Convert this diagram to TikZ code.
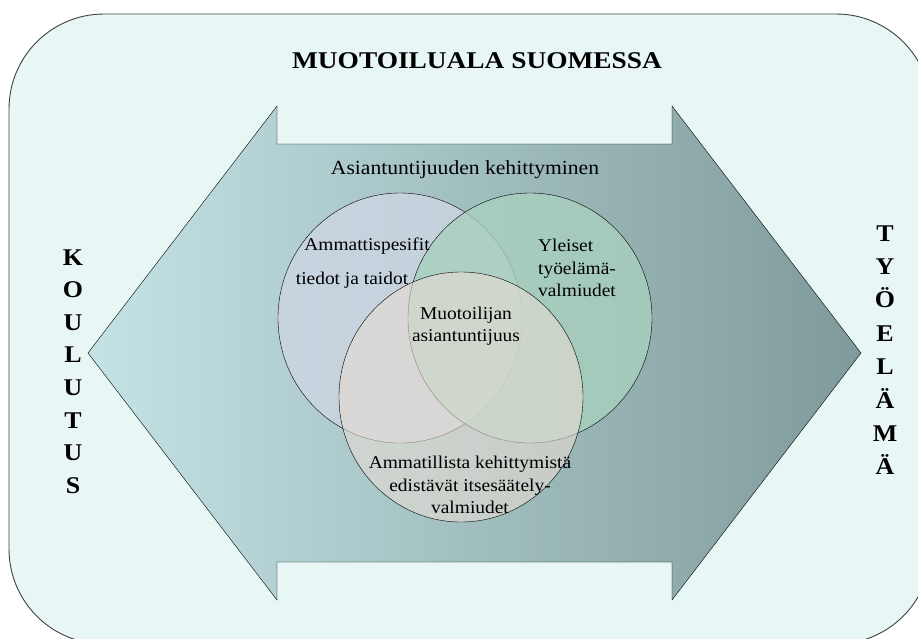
\documentclass[tikz,border=0pt]{standalone}
\usepackage{fontspec}
\setmainfont[FakeStretch=1.08]{Liberation Serif}
\newfontfamily\titlefam[FakeStretch=1.14]{Liberation Serif}
\usepackage{tikz}
\usetikzlibrary{positioning}
\definecolor{pagebg}{HTML}{E9F6F6}
\definecolor{arrowleft}{HTML}{C4E3E5}
\definecolor{arrowright}{HTML}{7F9A9A}
\definecolor{circleA}{HTML}{CDD5E2}
\definecolor{circleB}{HTML}{A8D0BE}
\definecolor{circleC}{HTML}{E6DCD3}
\newcommand{\titlefont}{\titlefam\fontsize{24}{28}\selectfont\bfseries}
\newcommand{\letterfont}{\fontsize{24}{28}\selectfont\bfseries}
\newcommand{\headfont}{\fontsize{20}{24}\selectfont}
\newcommand{\vennfont}{\fontsize{18}{22.5}\selectfont}
\begin{document}
\begin{tikzpicture}[x=1pt,y=-1pt,semithick,
        letter/.style={anchor=base,inner sep=0pt,font=\letterfont},
        venntext/.style={inner sep=0pt,font=\vennfont,align=center},
        venn/.style={draw=black,thin,fill opacity=0.8}]
        \useasboundingbox (0,0) rectangle (918,638);
        \clip (0,0) rectangle (918,638);
        % tausta
        \draw[fill=pagebg,draw=black!75,line width=0.9pt,rounded corners=95pt] (9,14) rectangle (931,644);
        % kaksisuuntainen nuoli
        \shadedraw[left color=arrowleft,right color=arrowright,draw=black,thin]
            (88,353) -- (277,106) -- (277,144) -- (672,144) -- (672,106) -- (861,353)
            -- (672,600) -- (672,562) -- (277,562) -- (277,600) -- cycle;
        \node[font=\titlefont,inner sep=0pt](title) at (477,61){MUOTOILUALA SUOMESSA};
        \node[font=\headfont,inner sep=0pt](head) at (465,170){Asiantuntijuuden kehittyminen};
        % ympyrat
        \path[venn,fill=circleA] (400,318) ellipse [x radius=122,y radius=125];
        \path[venn,fill=circleB] (530,318) ellipse [x radius=122,y radius=125];
        \path[venn,fill=circleC,fill opacity=0.6] (461,397) ellipse [x radius=122,y radius=125];
        \node[venntext](spec1) at (367,246){Ammattispesifit};
        \node[venntext](spec2) at (352,280){tiedot ja taidot};
        \node[venntext,align=left](yleiset) at (577,268){Yleiset\\ty\"oel\"am\"a-\\valmiudet};
        \node[venntext](asiant) at (466,326){Muotoilijan\\asiantuntijuus};
        \node[venntext](itse) at (470,485){Ammatillista kehittymist\"a\\edist\"av\"at itses\"a\"ately-\\valmiudet};
        % pystysuorat sanat
        \foreach \ch [count=\i] in {K,O,U,L,U,T,U,S}
            \node[letter](k\i) at (73,{265+32.6*(\i-1)}){\ch};
        \foreach \ch [count=\i] in {T,Y,\"O,E,L,\"A,M,\"A}
            \node[letter](t\i) at (885,{241+33.4*(\i-1)}){\ch};
\end{tikzpicture}
\end{document}
